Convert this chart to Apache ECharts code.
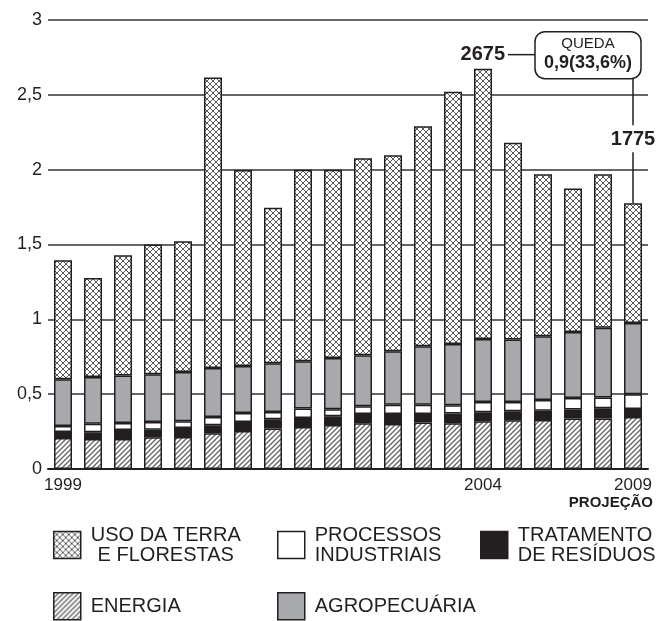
<!DOCTYPE html>
<html><head><meta charset="utf-8">
<script src="https://cdn.jsdelivr.net/npm/echarts@6/dist/echarts.min.js"></script>
<style>html,body{margin:0;padding:0;background:#fff}#c{width:669px;height:621px}</style>
</head><body><div id="c"></div>
<script>
const xLabels = ['1999','','','','','','','','','','','','','','2004','','','','','2009'];
const energia     = [0.207,0.200,0.200,0.212,0.214,0.239,0.254,0.270,0.281,0.294,0.305,0.301,0.310,0.305,0.319,0.326,0.328,0.337,0.337,0.348];
const tratamento  = [0.040,0.045,0.061,0.051,0.060,0.053,0.060,0.062,0.060,0.058,0.063,0.067,0.058,0.065,0.060,0.060,0.062,0.060,0.069,0.053];
const processos   = [0.040,0.058,0.046,0.051,0.045,0.056,0.060,0.049,0.063,0.047,0.051,0.062,0.062,0.056,0.069,0.062,0.071,0.078,0.071,0.099];
const agro        = [0.313,0.312,0.317,0.319,0.329,0.327,0.315,0.326,0.316,0.343,0.341,0.357,0.390,0.410,0.421,0.417,0.426,0.441,0.466,0.476];
const usoTerra    = [0.795,0.662,0.804,0.867,0.874,1.941,1.308,1.038,1.280,1.258,1.317,1.310,1.470,1.684,1.806,1.315,1.083,0.958,1.027,0.799];
const yTicks = [0,0.5,1,1.5,2,2.5,3];
const projLabel = 'PROJEÇÃO';

const totals = energia.map((_, i) => energia[i] + tratamento[i] + processos[i] + agro[i] + usoTerra[i]);

function makeCross() {
  const s = 6, c = document.createElement('canvas');
  c.width = s; c.height = s;
  const g = c.getContext('2d');
  g.fillStyle = '#fff'; g.fillRect(0, 0, s, s);
  g.strokeStyle = '#585858'; g.lineWidth = 1;
  g.beginPath(); g.moveTo(0, 0); g.lineTo(s, s); g.moveTo(s, 0); g.lineTo(0, s); g.stroke();
  return c;
}
function makeHatch() {
  const s = 5, c = document.createElement('canvas');
  c.width = s; c.height = s;
  const g = c.getContext('2d');
  g.fillStyle = '#fff'; g.fillRect(0, 0, s, s);
  g.strokeStyle = '#6a6a6a'; g.lineWidth = 1.4;
  g.beginPath();
  g.moveTo(-1, s + 1); g.lineTo(s + 1, -1);
  g.moveTo(-1, 1); g.lineTo(1, -1);
  g.moveTo(s - 1, s + 1); g.lineTo(s + 1, s - 1);
  g.stroke();
  return c;
}
const crossPat = { image: makeCross(), repeat: 'repeat' };
const hatchPat = { image: makeHatch(), repeat: 'repeat' };

const NAMES = {
  uso: 'USO DA TERRA\nE FLORESTAS',
  proc: 'PROCESSOS\nINDUSTRIAIS',
  trat: 'TRATAMENTO\nDE RESÍDUOS',
  ener: 'ENERGIA',
  agro: 'AGROPECUÁRIA'
};

const FONT = 'Liberation Sans, Arial, sans-serif';
const border = { borderColor: '#231f20', borderWidth: 1.5 };
function bar(name, data, color) {
  return {
    name, type: 'bar', stack: 'total', data, barWidth: '60%',
    itemStyle: Object.assign({ color }, border),
    emphasis: { disabled: true }, z: 3
  };
}

function leg(name, left, top, centered) {
  const o = {
    data: [name], left, top, icon: 'rect', itemWidth: 27, itemHeight: 27, itemGap: 0,
    selectedMode: false, padding: 0,
    itemStyle: { borderWidth: 1.5, borderColor: '#231f20' },
    textStyle: { fontFamily: FONT, fontSize: 20, color: '#231f20', lineHeight: 20, padding: [0, 0, 0, 5] }
  };
  if (centered) {
    o.formatter = n => n.split('\n').map(s => '{c|' + s + '}').join('\n');
    o.textStyle.rich = { c: { align: 'center', fontFamily: FONT, fontSize: 20, color: '#231f20', lineHeight: 20 } };
  }
  return o;
}

const chart = echarts.init(document.getElementById('c'), null, { renderer: 'canvas' });
chart.setOption({
  animation: false,
  backgroundColor: '#fff',
  grid: { left: 48, right: 21, top: 20, bottom: 152, containLabel: false },
  xAxis: {
    type: 'category',
    data: xLabels.map((_, i) => String(i)),
    axisLine: { lineStyle: { color: '#231f20', width: 2 } },
    axisTick: { show: false },
    axisLabel: { interval: 0, margin: 8, fontFamily: FONT, fontSize: 17, color: '#231f20',
      formatter: (v, i) => xLabels[i] }
  },
  yAxis: {
    type: 'value', min: yTicks[0], max: yTicks[yTicks.length - 1], interval: 0.5,
    axisLine: { show: false }, axisTick: { show: false },
    splitLine: { lineStyle: { color: '#333', width: 1.5 } },
    axisLabel: { margin: 6, fontFamily: FONT, fontSize: 18, color: '#231f20',
      formatter: v => String(v).replace('.', ',') }
  },
  legend: [
    leg(NAMES.uso, 53, 525, true),
    leg(NAMES.proc, 277, 525),
    leg(NAMES.trat, 480, 525),
    leg(NAMES.ener, 53, 592),
    leg(NAMES.agro, 277, 592)
  ],
  series: [
    bar(NAMES.ener, energia, hatchPat),
    bar(NAMES.trat, tratamento, '#231f20'),
    bar(NAMES.proc, processos, '#ffffff'),
    bar(NAMES.agro, agro, '#a7a9ac'),
    bar(NAMES.uso, usoTerra, crossPat)
  ]
});

// annotation
let peakIdx = 0;
totals.forEach((t, i) => { if (t > totals[peakIdx]) peakIdx = i; });
const lastIdx = totals.length - 1;
const pk = chart.convertToPixel({ gridIndex: 0 }, [peakIdx, totals[peakIdx]]);
const ls = chart.convertToPixel({ gridIndex: 0 }, [lastIdx, totals[lastIdx]]);
const drop = totals[peakIdx] - totals[lastIdx];
const pct = drop / totals[peakIdx] * 100;
const fmt = (v, d) => v.toFixed(d).replace('.', ',');
const base = chart.convertToPixel({ gridIndex: 0 }, [lastIdx, 0]);
const lineStyle = { stroke: '#231f20', lineWidth: 1.5 };

const boxR = ls[0] + 8, boxL = boxR - 106, boxT = pk[1] - 37, boxB = boxT + 47;
const lblY = pk[1] - 14;
const valY = ls[1] - 64;

chart.setOption({
  graphic: [
    { type: 'text', style: { x: pk[0] + 22, y: lblY, text: String(Math.round(totals[peakIdx] * 1000)),
        align: 'right', verticalAlign: 'middle', font: 'bold 20px ' + FONT, fill: '#231f20' }, z: 10 },
    { type: 'line', shape: { x1: pk[0] + 25, y1: lblY, x2: boxL, y2: lblY }, style: lineStyle, z: 10 },
    { type: 'rect', shape: { x: boxL, y: boxT, width: boxR - boxL, height: boxB - boxT, r: 10 },
      style: { fill: '#fff', stroke: '#231f20', lineWidth: 1.5 }, z: 10 },
    { type: 'text', style: { x: (boxL + boxR) / 2, y: boxT + 12, text: 'QUEDA', align: 'center', verticalAlign: 'middle',
        font: '15px ' + FONT, fill: '#231f20' }, z: 11 },
    { type: 'text', style: { x: (boxL + boxR) / 2, y: boxT + 31, text: fmt(drop, 1) + '(' + fmt(pct, 1) + '%)',
        align: 'center', verticalAlign: 'middle', font: 'bold 18px ' + FONT, fill: '#231f20' }, z: 11 },
    { type: 'line', shape: { x1: ls[0], y1: boxB, x2: ls[0], y2: valY - 14 }, style: lineStyle, z: 10 },
    { type: 'text', style: { x: ls[0], y: valY, text: String(Math.round(totals[lastIdx] * 1000)),
        align: 'center', verticalAlign: 'middle', font: 'bold 20px ' + FONT, fill: '#231f20' }, z: 10 },
    { type: 'line', shape: { x1: ls[0], y1: valY + 13, x2: ls[0], y2: ls[1] }, style: lineStyle, z: 10 },
    { type: 'text', style: { x: base[0] + 20, y: base[1] + 34, text: projLabel, align: 'right', verticalAlign: 'middle',
        font: 'bold 15px ' + FONT, fill: '#231f20' }, z: 10 }
  ]
});
</script></body></html>
